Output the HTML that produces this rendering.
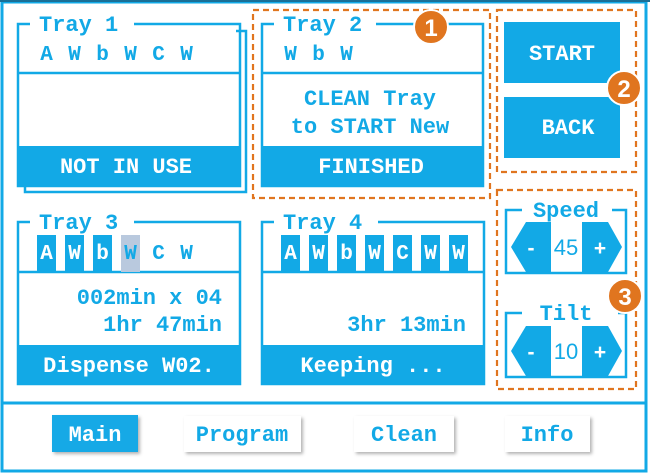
<!DOCTYPE html>
<html><head><meta charset="utf-8"><style>
html,body{margin:0;padding:0;background:#fff;width:650px;height:475px;overflow:hidden}
svg{display:block}
text{font-family:"Liberation Mono",monospace;font-weight:bold}
.s{font-family:"Liberation Sans",sans-serif}
</style></head><body>
<svg width="650" height="475" viewBox="0 0 650 475" xmlns="http://www.w3.org/2000/svg">
<defs>
<filter id="sh" x="-20%" y="-20%" width="150%" height="160%"><feDropShadow dx="2" dy="2" stdDeviation="1.5" flood-color="#000" flood-opacity="0.3"/></filter>
</defs>
<rect x="0" y="0" width="650" height="475" fill="#fff"/>
<rect x="2" y="2" width="644" height="469" fill="none" stroke="#12a9e6" stroke-width="3"/>
<line x1="0" y1="1" x2="650" y2="1" stroke="#1a6f96" stroke-width="2"/>
<line x1="2" y1="403" x2="646" y2="403" stroke="#12a9e6" stroke-width="3"/>

<g fill="none" stroke="#12a9e6" stroke-width="2.5">
<polyline points="236,31 246,31 246,192 25,192 25,186"/>
<polyline points="30,24 18,24 18,186 240,186 240,24 134,24"/>
<line x1="18" y1="73" x2="240" y2="73"/>
<polyline points="274,24 262,24 262,186 483,186 483,24 376,24"/>
<line x1="262" y1="73" x2="483" y2="73"/>
<polyline points="30,222 18,222 18,384 240,384 240,222 134,222"/>
<line x1="18" y1="272" x2="240" y2="272"/>
<polyline points="274,222 262,222 262,384 484,384 484,222 378,222"/>
<line x1="262" y1="272" x2="484" y2="272"/>
<polyline points="522,210 506,210 506,273 626,273 626,210 612,210"/>
<polyline points="522,313 506,313 506,377 626,377 626,313 618,313"/>
</g>
<rect x="17" y="146" width="224" height="41" fill="#12a9e6"/>
<rect x="261" y="146" width="223" height="41" fill="#12a9e6"/>
<rect x="17" y="345" width="224" height="40" fill="#12a9e6"/>
<rect x="261" y="345" width="224" height="40" fill="#12a9e6"/>

<g font-size="22" fill="#12a9e6">
<text x="39" y="31">Tray 1</text>
<text x="283" y="31">Tray 2</text>
<text x="39" y="229">Tray 3</text>
<text x="283" y="229">Tray 4</text>
</g>
<g font-size="21" fill="#12a9e6" text-anchor="middle">
<text x="46.5" y="60">A</text><text x="74.5" y="60">W</text><text x="102.5" y="60">b</text>
<text x="130.5" y="60">W</text><text x="158.5" y="60">C</text><text x="186.5" y="60">W</text>
<text x="290.5" y="60">W</text><text x="318.5" y="60">b</text><text x="346.5" y="60">W</text>
</g>
<rect x="37" y="235" width="19" height="37" fill="#12a9e6"/>
<rect x="65" y="235" width="19" height="37" fill="#12a9e6"/>
<rect x="93" y="235" width="19" height="37" fill="#12a9e6"/>
<rect x="121" y="235" width="19" height="37" fill="#b9c9de"/>
<g font-size="21" fill="#fff" text-anchor="middle">
<text x="46.5" y="259">A</text><text x="74.5" y="259">W</text><text x="102.5" y="259">b</text>
</g>
<g font-size="21" fill="#12a9e6" text-anchor="middle">
<text x="130.5" y="259">W</text><text x="158.5" y="259">C</text><text x="186.5" y="259">W</text>
</g>
<g fill="#12a9e6">
<rect x="281" y="235" width="19" height="37"/><rect x="309" y="235" width="19" height="37"/>
<rect x="337" y="235" width="19" height="37"/><rect x="365" y="235" width="19" height="37"/>
<rect x="393" y="235" width="19" height="37"/><rect x="421" y="235" width="19" height="37"/>
<rect x="449" y="235" width="19" height="37"/>
</g>
<g font-size="21" fill="#fff" text-anchor="middle">
<text x="290.5" y="259">A</text><text x="318.5" y="259">W</text><text x="346.5" y="259">b</text>
<text x="374.5" y="259">W</text><text x="402.5" y="259">C</text><text x="430.5" y="259">W</text>
<text x="458.5" y="259">W</text>
</g>
<g font-size="22" fill="#12a9e6">
<text x="370" y="105" text-anchor="middle">CLEAN Tray</text>
<text x="370" y="133" text-anchor="middle">to START New</text>
<text x="222" y="304" text-anchor="end">002min x 04</text>
<text x="222" y="331" text-anchor="end">1hr 47min</text>
<text x="466" y="331" text-anchor="end">3hr 13min</text>
</g>
<g font-size="22" fill="#fff" text-anchor="middle">
<text x="126" y="173">NOT IN USE</text>
<text x="371" y="173">FINISHED</text>
<text x="129" y="372">Dispense W02.</text>
<text x="373" y="372">Keeping ...</text>
</g>

<rect x="504" y="22" width="116" height="61" fill="#12a9e6"/>
<rect x="504" y="97" width="116" height="61" fill="#12a9e6"/>
<g font-size="22" fill="#fff" text-anchor="middle">
<text x="562" y="60">START</text>
<text x="568" y="134">BACK</text>
</g>

<g font-size="22" fill="#12a9e6" text-anchor="middle">
<text x="566" y="217">Speed</text>
<text x="566" y="320">Tilt</text>
</g>
<g fill="#12a9e6">
<polygon points="551,222 526,222 511,247 526,272 551,272"/>
<polygon points="582,222 608,222 622,247 608,272 582,272"/>
<polygon points="551,326 526,326 511,351 526,376 551,376"/>
<polygon points="582,326 608,326 622,351 608,376 582,376"/>
</g>
<g font-size="21" fill="#fff" text-anchor="middle">
<text x="531" y="255" class="s">-</text>
<text x="600" y="255" class="s">+</text>
<text x="531" y="359" class="s">-</text>
<text x="600" y="359" class="s">+</text>
</g>
<g font-size="22" fill="#12a9e6" text-anchor="middle" font-weight="normal">
<text x="566" y="255" class="s" style="font-weight:normal">45</text>
<text x="566" y="359" class="s" style="font-weight:normal">10</text>
</g>

<g fill="none" stroke="#e0751f" stroke-width="2.2" stroke-dasharray="6,4">
<rect x="253" y="10" width="237" height="188"/>
<rect x="497" y="10" width="139" height="162"/>
<rect x="497" y="190" width="139" height="199"/>
</g>
<g fill="#e0751f" stroke="#fff" stroke-width="2">
<circle cx="431" cy="27" r="17"/>
<circle cx="624" cy="88" r="17"/>
<circle cx="625" cy="296" r="17"/>
</g>
<g font-size="24" fill="#fff" text-anchor="middle">
<text x="431" y="36" class="s">1</text>
<text x="624" y="97" class="s">2</text>
<text x="625" y="305" class="s">3</text>
</g>

<rect x="52" y="415" width="86" height="37" fill="#12a9e6" filter="url(#sh)"/>
<rect x="184" y="416" width="117" height="36" fill="#fff" filter="url(#sh)"/>
<rect x="354" y="416" width="100" height="36" fill="#fff" filter="url(#sh)"/>
<rect x="505" y="416" width="85" height="36" fill="#fff" filter="url(#sh)"/>
<g font-size="22" text-anchor="middle">
<text x="95" y="441" fill="#fff">Main</text>
<text x="242" y="441" fill="#12a9e6">Program</text>
<text x="404" y="441" fill="#12a9e6">Clean</text>
<text x="547" y="441" fill="#12a9e6">Info</text>
</g>
</svg>
</body></html>
